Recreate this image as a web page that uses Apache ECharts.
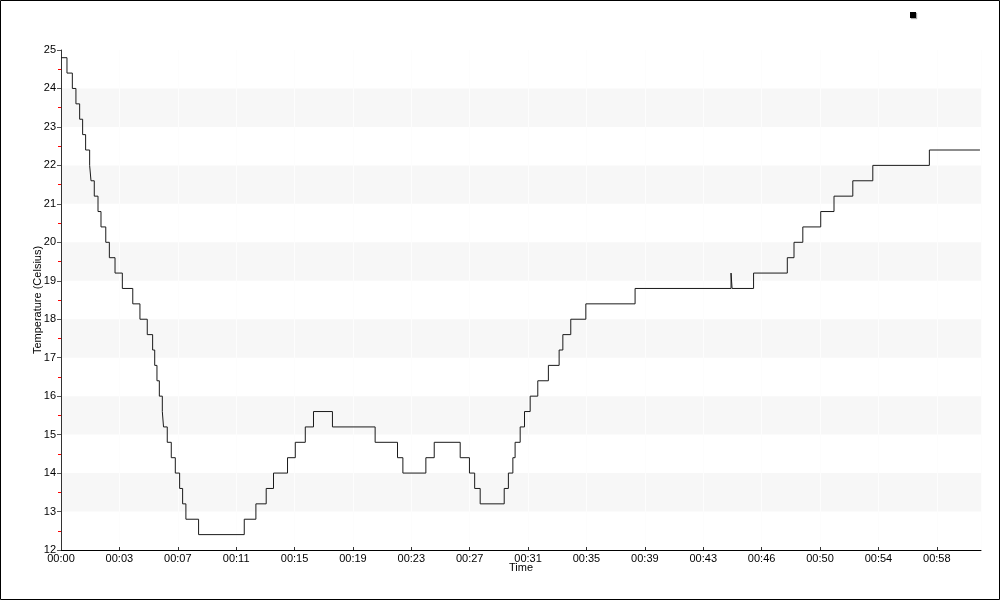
<!DOCTYPE html>
<html>
<head>
<meta charset="utf-8">
<script src="https://cdn.jsdelivr.net/npm/echarts@6/dist/echarts.min.js"></script>
<style>
html,body{margin:0;padding:0;background:#fff;}
#c{width:1000px;height:600px;}
</style>
</head>
<body>
<div id="c"></div>
<script>
// Time (minutes) at which each temperature level starts
const times = [0, 0.40, 0.76, 1.00, 1.25, 1.45, 1.65, 1.92, 2.01, 2.23, 2.48, 2.68, 3.00, 3.24, 3.62, 4.11, 4.81, 5.29, 5.78, 6.14, 6.28, 6.43, 6.59, 6.79, 6.87, 7.12, 7.39, 7.66, 7.95, 8.15, 8.37, 9.22, 12.28, 13.06, 13.75, 14.24, 15.18, 15.70, 16.37, 16.92, 18.19, 21.05, 22.55, 22.91, 24.45, 25.01, 26.75, 27.37, 27.72, 28.09, 29.70, 29.98, 30.28, 30.43, 30.77, 31.06, 31.44, 31.95, 32.66, 33.38, 33.63, 34.16, 35.17, 38.47, 44.90, 44.97, 46.41, 48.67, 49.12, 49.71, 50.91, 51.80, 53.06, 54.40, 58.19, 61.58];
// Temperature (Celsius)
const temps = [24.8, 24.4, 24.0, 23.6, 23.2, 22.8, 22.4, 22.0, 21.6, 21.2, 20.8, 20.4, 20.0, 19.6, 19.2, 18.8, 18.4, 18.0, 17.6, 17.2, 16.8, 16.4, 16.0, 15.6, 15.2, 14.8, 14.4, 14.0, 13.6, 13.2, 12.8, 12.4, 12.8, 13.2, 13.6, 14.0, 14.4, 14.8, 15.2, 15.6, 15.2, 14.8, 14.4, 14.0, 14.4, 14.8, 14.4, 14.0, 13.6, 13.2, 13.6, 14.0, 14.4, 14.8, 15.2, 15.6, 16.0, 16.4, 16.8, 17.2, 17.6, 18.0, 18.4, 18.8, 19.2, 18.8, 19.2, 19.6, 20.0, 20.4, 20.8, 21.2, 21.6, 22.0, 22.4, 22.4];
const seriesName = 'Temperature';
const xTickInterval = 3.9125; // minutes between x tick labels
const xMax = 61.65;

const data = times.map((t, i) => [t, temps[i]]);
const font = 'Liberation Sans';

const chart = echarts.init(document.getElementById('c'), null, {renderer: 'canvas'});
chart.setOption({
  animation: false,
  backgroundColor: '#ffffff',
  graphic: [{
    type: 'rect', z: 100, silent: true,
    shape: {x: 0.5, y: 0.5, width: 999, height: 599},
    style: {fill: 'none', stroke: '#000', lineWidth: 1}
  }],
  legend: {
    left: 910, top: 12, padding: 0,
    icon: 'rect', itemWidth: 6, itemHeight: 6, itemGap: 0,
    formatter: () => '',
    data: [seriesName],
    itemStyle: {color: '#000', shadowColor: 'rgba(0,0,0,0.35)', shadowOffsetX: 1, shadowOffsetY: 1, shadowBlur: 1}
  },
  grid: {left: 61, top: 50, width: 920, height: 500, containLabel: false},
  xAxis: {
    type: 'value',
    min: 0, max: xMax, interval: xTickInterval,
    name: 'Time', nameLocation: 'middle', nameGap: 12, nameMoveOverlap: false,
    nameTextStyle: {fontFamily: font, fontSize: 11, color: '#000'},
    axisLine: {show: true, onZero: false, lineStyle: {color: '#000', width: 1}},
    axisTick: {show: true, inside: true, length: 3, lineStyle: {color: '#333'}},
    axisLabel: {
      showMaxLabel: false, margin: 3,
      fontFamily: font, fontSize: 11, color: '#000',
      formatter: v => '00:' + String(Math.floor(v + 1e-6)).padStart(2, '0')
    },
    splitLine: {show: true, lineStyle: {color: '#fdfdfd', width: 1}}
  },
  yAxis: {
    type: 'value',
    min: 12, max: 25, interval: 1,
    name: 'Temperature (Celsius)', nameLocation: 'middle', nameGap: 18, nameMoveOverlap: false,
    nameTextStyle: {fontFamily: font, fontSize: 11, color: '#000'},
    axisLine: {show: true, lineStyle: {color: '#333', width: 1}},
    axisTick: {show: true, length: 4, lineStyle: {color: '#555'}},
    minorTick: {show: true, splitNumber: 2, length: 3, lineStyle: {color: '#ff0000'}},
    axisLabel: {margin: 5, fontFamily: font, fontSize: 11, color: '#000'},
    splitLine: {show: false},
    splitArea: {show: true, areaStyle: {color: ['rgba(255,255,255,0)', '#f7f7f7']}}
  },
  series: [{
    name: seriesName,
    type: 'line',
    step: 'end',
    data: data,
    showSymbol: false,
    symbol: 'none',
    itemStyle: {color: '#000'},
    lineStyle: {color: '#1a1a1a', width: 1}
  }]
});
</script>
</body>
</html>
